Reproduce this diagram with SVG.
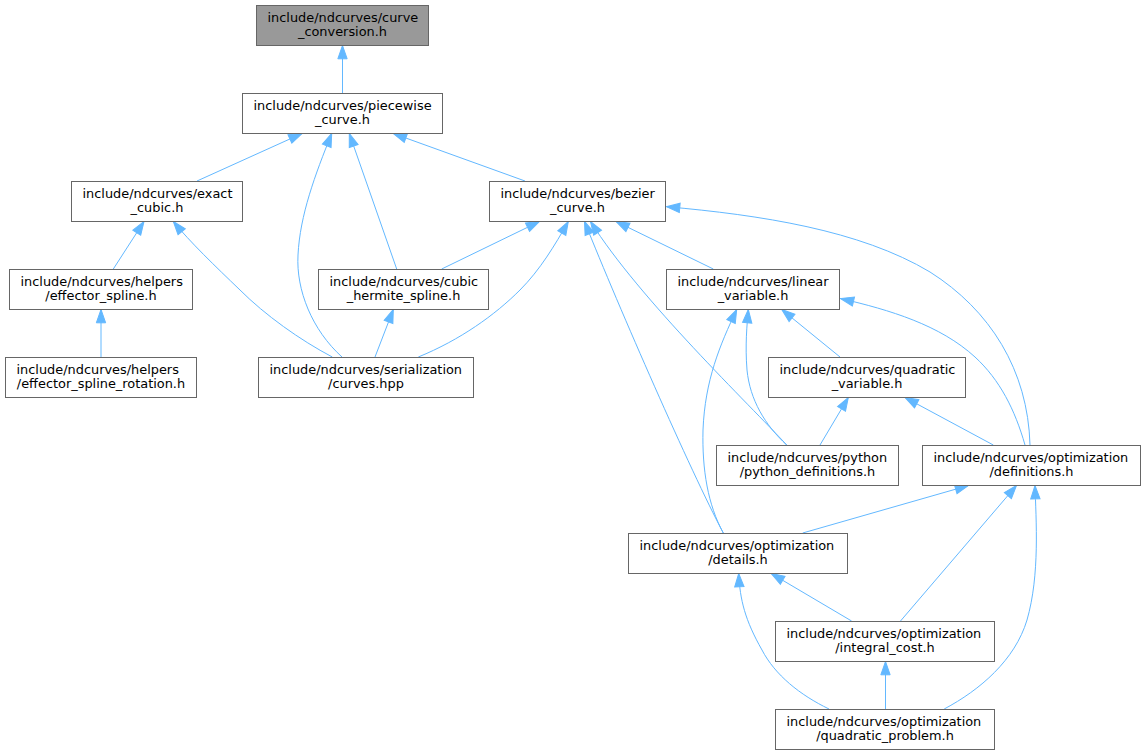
<svg xmlns="http://www.w3.org/2000/svg" width="1145" height="755" viewBox="0 0 1145 755">
<style>
.box{fill:#ffffff;stroke:#666666;stroke-width:1}
.root{fill:#999999;stroke:#666666;stroke-width:1}
.t{font-family:"DejaVu Sans","Liberation Sans",sans-serif;font-size:12.9px;fill:#000000}
.s{text-anchor:start}
.m{text-anchor:middle}
.e{fill:none;stroke:#63b8ff;stroke-width:1;marker-end:url(#ah)}
</style>
<defs>
<marker id="ah" markerUnits="userSpaceOnUse" markerWidth="16" markerHeight="12" refX="13.3" refY="4.67" orient="auto" overflow="visible">
<path d="M0,0 L13.3,4.67 L0,9.33 z" fill="#63b8ff" stroke="#63b8ff" stroke-width="1"/>
</marker>
</defs>
<rect width="1145" height="755" fill="#ffffff"/>
<g id="edges">
<path class="e" d="M342.5,93 L342.5,45.5"/>
<path class="e" d="M197,181 L302,133.5"/>
<path class="e" d="M342,357 C312,330 296,290 298,255 C300,215 315,175 331.7,133.5"/>
<path class="e" d="M396.7,269 L349.3,133.5"/>
<path class="e" d="M525,181 L393.3,133.5"/>
<path class="e" d="M113.3,269 L144,221.5"/>
<path class="e" d="M332.3,357 C300,340 265,315 240,290 C215,266 190,242 173.3,221.5"/>
<path class="e" d="M101,357 L101,309.5"/>
<path class="e" d="M441.7,269 L539.5,221.5"/>
<path class="e" d="M418.3,357 C460,340 495,315 520,290 C540,270 555,245 568.3,221.5"/>
<path class="e" d="M723.3,533 C690,470 620,310 584.5,221.5"/>
<path class="e" d="M786.7,445 C750,405 640,300 590.5,221.5"/>
<path class="e" d="M713.3,269 L616,221.5"/>
<path class="e" d="M1030,445 C1028,370 990,310 930,272 C860,230 760,215 666.5,206.7"/>
<path class="e" d="M375,357 L393.3,309.5"/>
<path class="e" d="M786.7,445 C765,425 750,400 747,370 C745,345 747,325 748.3,309.5"/>
<path class="e" d="M723.3,533 C708,505 702,470 703,430 C705,380 720,345 736.7,309.5"/>
<path class="e" d="M840,357 L781.7,309.5"/>
<path class="e" d="M1025,445 C1015,410 1000,380 975,357 C940,325 890,310 840.5,298.5"/>
<path class="e" d="M820,445 L848.3,397.5"/>
<path class="e" d="M993.3,445 L905,397.5"/>
<path class="e" d="M802.7,533 L968.5,485.5"/>
<path class="e" d="M900.5,621 L1016.5,485.5"/>
<path class="e" d="M944.2,709 C980,690 1015,660 1027,620 C1040,575 1036,520 1035,485.5"/>
<path class="e" d="M851.6,621 L771.2,573.5"/>
<path class="e" d="M829,709 C800,695 775,675 762,650 C745,620 740,600 738.7,573.5"/>
<path class="e" d="M885.5,709 L885.5,661.5"/>
</g>
<g id="curve_conversion"><rect class="root" x="256.5" y="5.5" width="172" height="40"/><text class="t s" x="267.5" y="21.5">include/ndcurves/curve</text><text class="t m" x="342.5" y="35.7">_conversion.h</text></g>
<g id="piecewise_curve"><rect class="box" x="242.5" y="93.5" width="200" height="40"/><text class="t s" x="253.5" y="109.5">include/ndcurves/piecewise</text><text class="t m" x="342.5" y="123.7">_curve.h</text></g>
<g id="exact_cubic"><rect class="box" x="71.5" y="181.5" width="171" height="40"/><text class="t s" x="82.5" y="197.5">include/ndcurves/exact</text><text class="t m" x="157" y="211.7">_cubic.h</text></g>
<g id="bezier_curve"><rect class="box" x="489.5" y="181.5" width="176" height="40"/><text class="t s" x="500.5" y="197.5">include/ndcurves/bezier</text><text class="t m" x="577.5" y="211.7">_curve.h</text></g>
<g id="effector_spline"><rect class="box" x="9.5" y="269.5" width="183" height="40"/><text class="t s" x="20.5" y="285.5">include/ndcurves/helpers</text><text class="t m" x="101" y="299.7">/effector_spline.h</text></g>
<g id="cubic_hermite_spline"><rect class="box" x="318.5" y="269.5" width="170" height="40"/><text class="t s" x="329.5" y="285.5">include/ndcurves/cubic</text><text class="t m" x="403.5" y="299.7">_hermite_spline.h</text></g>
<g id="linear_variable"><rect class="box" x="666.5" y="269.5" width="173" height="40"/><text class="t s" x="677.5" y="285.5">include/ndcurves/linear</text><text class="t m" x="753" y="299.7">_variable.h</text></g>
<g id="effector_spline_rotation"><rect class="box" x="5.5" y="357.5" width="191" height="40"/><text class="t s" x="16.5" y="373.5">include/ndcurves/helpers</text><text class="t m" x="101" y="387.7">/effector_spline_rotation.h</text></g>
<g id="serialization_curves"><rect class="box" x="258.5" y="357.5" width="215" height="40"/><text class="t s" x="269.5" y="373.5">include/ndcurves/serialization</text><text class="t m" x="366" y="387.7">/curves.hpp</text></g>
<g id="quadratic_variable"><rect class="box" x="768.5" y="357.5" width="197" height="40"/><text class="t s" x="779.5" y="373.5">include/ndcurves/quadratic</text><text class="t m" x="867" y="387.7">_variable.h</text></g>
<g id="python_definitions"><rect class="box" x="716.5" y="445.5" width="182" height="40"/><text class="t s" x="727.5" y="461.5">include/ndcurves/python</text><text class="t m" x="807.5" y="475.7">/python_definitions.h</text></g>
<g id="optimization_definitions"><rect class="box" x="922.5" y="445.5" width="218" height="40"/><text class="t s" x="933.5" y="461.5">include/ndcurves/optimization</text><text class="t m" x="1031.5" y="475.7">/definitions.h</text></g>
<g id="optimization_details"><rect class="box" x="628.5" y="533.5" width="219" height="40"/><text class="t s" x="639.5" y="549.5">include/ndcurves/optimization</text><text class="t m" x="738" y="563.7">/details.h</text></g>
<g id="optimization_integral_cost"><rect class="box" x="775.5" y="621.5" width="219" height="40"/><text class="t s" x="786.5" y="637.5">include/ndcurves/optimization</text><text class="t m" x="885" y="651.7">/integral_cost.h</text></g>
<g id="optimization_quadratic_problem"><rect class="box" x="775.5" y="709.5" width="219" height="40"/><text class="t s" x="786.5" y="725.5">include/ndcurves/optimization</text><text class="t m" x="885" y="739.7">/quadratic_problem.h</text></g>
</svg>
